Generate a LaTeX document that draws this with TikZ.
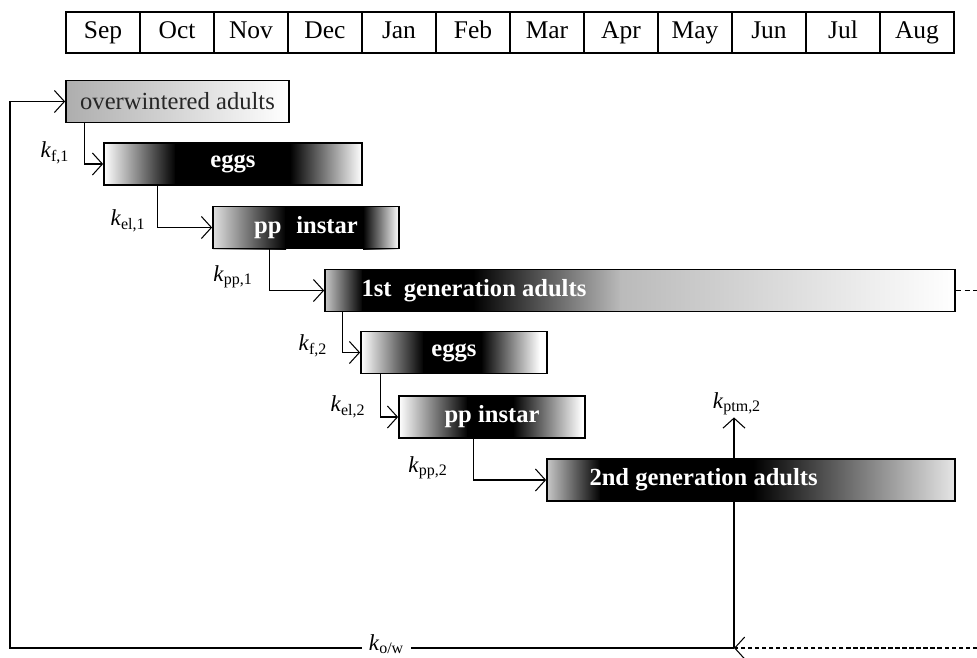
\documentclass[tikz,border=0pt]{standalone}
\usepackage{fontspec}
\setmainfont{Liberation Serif}
\usetikzlibrary{arrows.meta,positioning,calc}
\tikzstyle{monthcell}=[draw, line width=0.8pt, minimum width=1.48cm, minimum height=0.82cm, inner sep=0pt, text height=2.0ex, text depth=0.5ex, font=\fontsize{14.5}{16}\selectfont]
\tikzstyle{stagebox} =[draw, line width=1pt, minimum height=0.84cm, inner sep=0pt, font=\fontsize{14}{16}\selectfont\bfseries, text=white]
\tikzstyle{stagetext}=[inner sep=0pt, font=\fontsize{14}{16}\selectfont\bfseries, text=white]
\tikzstyle{ratelabel}=[inner sep=1pt, font=\fontsize{13}{15}\selectfont]
\tikzstyle{flow}     =[-{Straight Barb[length=2mm,width=4.4mm]}, line width=0.6pt]
\newcommand{\rate}[1]{\textit{k}\textsubscript{#1}}

\begin{document}
\begin{tikzpicture}[x=0.02cm, y=-0.02cm]
  \useasboundingbox (0,0) rectangle (977,657);

  % ── months ─────────────────────────────────────────────────────────────────
  \foreach \m [count=\i] in {Sep,Oct,Nov,Dec,Jan,Feb,Mar,Apr,May,Jun,Jul,Aug}
    \node[monthcell] (m\i) at (66+74*\i-37, 32.5) {\m};

  % ── gradients ──────────────────────────────────────────────────────────────
  \shade[left color=black!32, right color=white] (66,81) rectangle (289,122);

  \shade[left color=white, right color=black] (104,143) rectangle (176,185);
  \fill[black] (175,143) rectangle (291,185);
  \shade[left color=black, right color=white] (290,143) rectangle (362,185);

  \shade[left color=black!12, right color=black] (213,206) rectangle (286,249);
  \fill[black] (285,206) rectangle (364,249);
  \shade[left color=black, right color=white] (363,206) rectangle (399,249);

  \shade[left color=black!22, right color=black] (325,270) rectangle (363,311);
  \fill[black] (362,270) rectangle (474,311);
  \shade[left color=black, right color=black!27] (473,270) rectangle (621,311);
  \shade[left color=black!27, right color=white] (620,270) rectangle (955,311);

  \shade[left color=white, right color=black] (361,332) rectangle (424,373);
  \fill[black] (423,332) rectangle (482,373);
  \shade[left color=black, right color=white] (481,332) rectangle (540,373);

  \shade[left color=white, right color=black] (399,396) rectangle (468,438);
  \fill[black] (467,396) rectangle (514,438);
  \shade[left color=black, right color=white] (513,396) rectangle (582,438);

  \shade[left color=black!22, right color=black] (547,459) rectangle (601,501);
  \fill[black] (600,459) rectangle (754,501);
  \shade[left color=black, right color=black!10] (753,459) rectangle (955,501);

  % ── stages ─────────────────────────────────────────────────────────────────
  \node[stagebox, minimum width=4.46cm, text=black!85, font=\fontsize{14}{16}\selectfont]
    (winter) at (177.5,101.5) {overwintered adults};
  \node[stagebox, minimum width=5.16cm] (eggsA) at (233,164) {eggs};
  \node[stagebox, minimum width=3.72cm] (ppA) at (306,227.5) {pp\hspace{0.6em}instar};
  \node[stagebox, minimum width=12.6cm] (genA) at (640,290.5) {};
  \node[stagetext, right=0.74cm of genA.west] (genAtext) {1st\hspace{0.5em}generation adults};
  \node[stagebox, minimum width=3.72cm] (eggsB) at (454,352.5) {eggs};
  \node[stagebox, minimum width=3.72cm] (ppB) at (492,417) {pp instar};
  \node[stagebox, minimum width=8.16cm] (genB) at (751,480) {};
  \node[stagetext, right=0.86cm of genB.west] (genBtext) {2nd generation adults};

  % ── transitions ────────────────────────────────────────────────────────────
  \draw[flow] ($(winter.south west)+(19,0)$) |- (eggsA.west);
  \draw[flow] ($(eggsA.south west)+(54,0)$) |- (ppA.west);
  \draw[flow] ($(ppA.south west)+(57,0)$) |- (genA.west);
  \draw[flow] ($(genA.south west)+(18,0)$) |- (eggsB.west);
  \draw[flow] ($(eggsB.south west)+(20,0)$) |- (ppB.west);
  \draw[flow] ($(ppB.south west)+(75,0)$) |- (genB.west);

  \node[ratelabel] (kfA)  at (55,153)  {\rate{f,1}};
  \node[ratelabel] (kelA) at (128,221) {\rate{el,1}};
  \node[ratelabel] (kppA) at (233,277) {\rate{pp,1}};
  \node[ratelabel] (kfB)  at (313,346) {\rate{f,2}};
  \node[ratelabel] (kelB) at (348,407) {\rate{el,2}};
  \node[ratelabel] (kppB) at (428,468) {\rate{pp,2}};
  \node[ratelabel] (kptm) at (737,404) {\rate{ptm,2}};

  % ── overwintering loop ─────────────────────────────────────────────────────
  \coordinate (loopL) at (10,648);
  \coordinate (loopR) at (734,648);
  \coordinate (dashR) at (977,648);
  \coordinate (stubR) at (977,290.5);

  \draw[flow] (loopR) -- node[ratelabel, fill=white, pos=0.48, inner xsep=4pt, yshift=2pt] (kow) {\rate{o/w}}
    (loopL) |- (winter.west);
  \draw[flow] (loopR) -- (loopR |- kptm.south);
  \draw[flow, dash pattern=on 2.5pt off 1.5pt] (dashR) -- (loopR);
  \draw[line width=0.6pt, dash pattern=on 3pt off 2pt] (genA.east) -- (stubR);

\end{tikzpicture}
\end{document}
